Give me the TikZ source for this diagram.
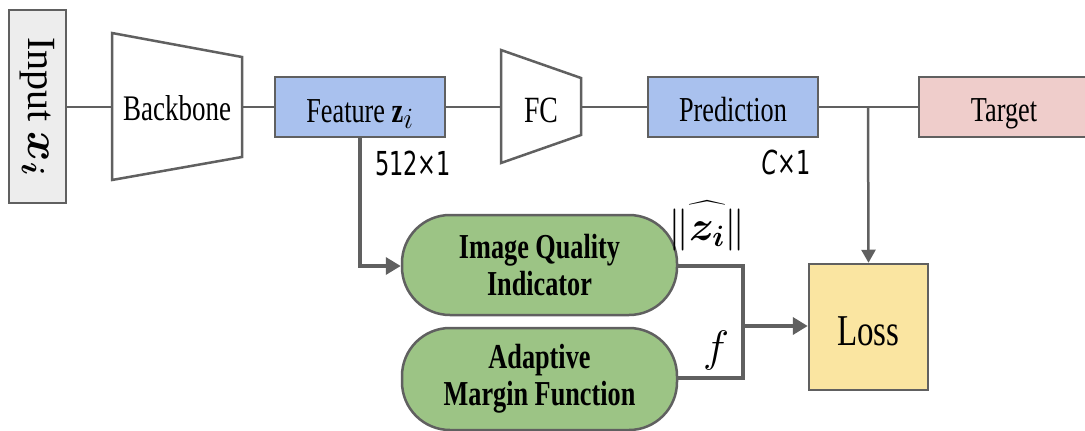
\RequirePackage{fix-cm}
\documentclass[tikz,border=0pt]{standalone}
\usepackage{amsmath,bm}
\usepackage{fontspec}
\setmainfont{Liberation Serif}[FakeStretch=0.75]
\newfontfamily\wideserif{Liberation Serif}
\newfontfamily\lblfont{DejaVu Sans}[FakeStretch=0.68]
\usetikzlibrary{arrows.meta,calc}
\definecolor{lineg}{HTML}{606060}
\definecolor{inputfill}{HTML}{EDEDED}
\definecolor{bluefill}{HTML}{A9C1EE}
\definecolor{pinkfill}{HTML}{EFCDCB}
\definecolor{greenfill}{HTML}{9CC485}
\definecolor{yellowfill}{HTML}{FAE5A1}
\tikzset{
  boxnode/.style={draw=lineg, line width=2.5pt, inner sep=0pt, minimum width=170pt, minimum height=60pt, align=center, text height=23pt, text depth=0pt},
  trapnode/.style={inner sep=0pt, align=center, text height=23pt, text depth=0pt},
  pill/.style={draw=lineg, line width=2.5pt, fill=greenfill, rounded corners=48pt, inner sep=0pt, minimum width=275pt, align=center, font=\fontsize{35}{37}\selectfont\bfseries},
  conn/.style={draw=lineg, line width=2.5pt},
  thickconn/.style={draw=lineg, line width=4pt},
  arrowthin/.style={-{Triangle[length=13pt,width=14pt]}},
  arrowthick/.style={-{Triangle[length=15pt,width=17pt]}},
  lbl/.style={inner sep=0pt, font=\lblfont\fontsize{33}{36}\selectfont},
}
\begin{document}
\begin{tikzpicture}[x=1pt,y=-1pt]
\useasboundingbox (0,0) rectangle (1085,431);
% input
\node[boxnode, fill=inputfill, minimum width=57pt, minimum height=193pt] (input) at (37.5,106.5) {};
\node[rotate=-90, inner sep=0pt, font=\wideserif\fontsize{40}{44}\selectfont] (inputtxt) at (input.center) {Input \fontsize{46}{48}\selectfont$\bm{x}_{\bm{i}}$};
% backbone trapezoid
\draw[lineg, line width=2.5pt, fill=white, line join=miter] (112,33) -- (242,57) -- (242,157) -- (112,180) -- cycle;
\node[trapnode, minimum width=130pt, minimum height=147pt, font=\fontsize{36}{40}\selectfont] (backbone) at (177,106.5) {\raisebox{-2pt}{Backbone}};
% feature
\node[boxnode, fill=bluefill, font=\fontsize{35}{38}\selectfont] (feature) at (360,107) {\raisebox{-4pt}{Feature \textbf{z}\fontsize{42}{42}\selectfont$_{i}$}};
% FC trapezoid
\draw[lineg, line width=2.5pt, fill=white, line join=miter] (501,50) -- (581,78) -- (581,135) -- (501,163) -- cycle;
\node[trapnode, minimum width=80pt, minimum height=113pt, font=\fontsize{37}{40}\selectfont] (fc) at (541,106.5) {\raisebox{-4pt}{FC}};
% prediction
\node[boxnode, fill=bluefill, font=\fontsize{35}{40}\selectfont] (pred) at (733,107) {\raisebox{-3pt}{Prediction}};
% target
\node[boxnode, fill=pinkfill, font=\fontsize{35}{40}\selectfont] (target) at (1004,107) {\raisebox{-3pt}{Target}};
% loss
\node[boxnode, fill=yellowfill, minimum width=119pt, minimum height=126pt, font=\fontsize{44}{48}\selectfont, text height=29pt] (loss) at (868.5,327) {\raisebox{-4pt}{Loss}};
% pills
\node[pill, minimum height=100pt] (iqi) at (539.5,265) {Image Quality\\Indicator};
\node[pill, minimum height=102pt] (amf) at (539.5,379) {Adaptive\\Margin Function};
% coordinates
\coordinate (branch) at (868,107);
\coordinate (fdown) at (360,266);
\coordinate (jtop) at (743,266);
\coordinate (jbot) at (743,378);
\coordinate (jmid) at (743,326);
% connectors
\draw[conn] (input.east |- 0,107) -- (backbone.west |- 0,107);
\draw[conn] (backbone.east |- 0,107) -- (feature.west);
\draw[conn] (feature.east) -- (fc.west |- 0,107);
\draw[conn] (fc.east |- 0,107) -- (pred.west);
\draw[conn] (pred.east) -- (target.west);
\draw[conn, arrowthin] (branch) -- (loss.north);
\draw[thickconn, line width=3.5pt, arrowthick] (feature.south) -- (fdown) -- (iqi.west |- fdown);
\draw[thickconn, line join=miter] (iqi.east |- jtop) -- (jtop) -- (jbot) -- (amf.east |- jbot);
\draw[thickconn, arrowthick] (jmid) -- (loss.west |- jmid);
% labels
\node[lbl] (dim1) at (413,163) {512×1};
\node[lbl] (dim2) at (786,162) {{\itshape C}×1};
\node[inner sep=0pt, font=\fontsize{42}{46}\selectfont] (znorm) at (707,226) {$\widehat{\|\bm{z}_{\bm{i}}\|}$};
\node[inner sep=0pt, font=\fontsize{44}{48}\selectfont] (flabel) at (716,350) {$f$};
\end{tikzpicture}
\end{document}
